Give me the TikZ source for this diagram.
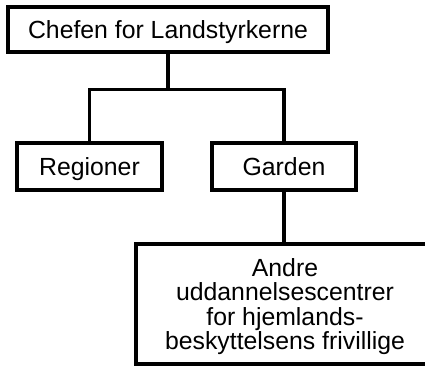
\documentclass[tikz,border=0pt]{standalone}
\usepackage{fontspec}
\setmainfont{Liberation Sans}
\begin{document}
\begin{tikzpicture}[x=1pt,y=-1pt,align=center,
    unit/.style={draw,line width=3.2pt,inner sep=0pt,text depth=0pt,font=\fontsize{24.8}{24.5}\selectfont},
    link/.style={line width=3.2pt}]
    % Page size; the bottom box runs off the right edge
    \useasboundingbox (0,0) rectangle (425,366);
    \clip (0,0) rectangle (425,366);

    % Boxes
    \node[unit,minimum width=320pt,minimum height=45pt] (chef) at (168,29.5) {Chefen for Landstyrkerne};
    \node[unit,minimum width=145pt,minimum height=47pt] (regioner) at (89.5,166.5) {Regioner};
    \node[unit,minimum width=144pt,minimum height=47pt] (garden) at (284,166.5) {Garden};
    \node[unit,minimum width=298pt,minimum height=120pt] (andre) at (285,304)
        {Andre\\uddannelsescentrer\\for hjemlands-\\beskyttelsens frivillige};

    % Connectors
    \draw[link] (chef.south) -- ++(0,36) coordinate (fork);
    \draw[link] (fork) -| (regioner.north);
    \draw[link] (fork) -| (garden.north);
    \draw[link] (garden.south) -- (garden.south |- andre.north);
\end{tikzpicture}
\end{document}
